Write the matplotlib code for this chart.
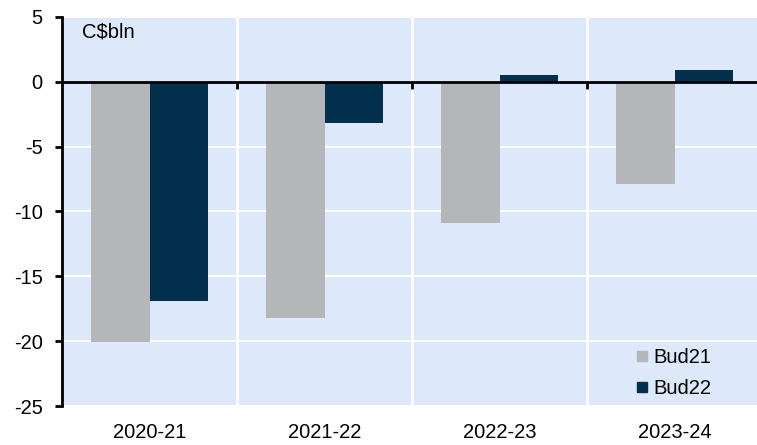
import numpy as np
import matplotlib
matplotlib.use("Agg")
import matplotlib.pyplot as plt

plt.rcParams["font.family"] = ["Liberation Sans", "DejaVu Sans"]
plt.rcParams["axes.unicode_minus"] = False

# Budget balance by fiscal year, C$ billion
years = ["2020-21", "2021-22", "2022-23", "2023-24"]
bud21 = [-20.1, -18.2, -10.9, -7.9]
bud22 = [-16.9, -3.2, 0.5, 0.9]

series_names = ["Bud21", "Bud22"]
colours = ["#B5B6B9", "#02304D"]
bg = "#DDE8FA"

fig = plt.figure(figsize=(7.57, 4.45), dpi=100)
ax = fig.add_axes([62 / 757, 39 / 445, 700 / 757, 389 / 445])
ax.set_facecolor(bg)

x = np.arange(len(years))
w = 0.335
ax.bar(x - w / 2, bud21, width=w, color=colours[0], label=series_names[0], zorder=3)
ax.bar(x + w / 2, bud22, width=w, color=colours[1], label=series_names[1], zorder=3)

ax.set_xlim(-0.5, len(years) - 0.5)
ax.set_ylim(-25, 5)
ax.set_yticks(np.arange(-25, 6, 5))

# white grid: horizontal at ticks, vertical between categories
for yv in np.arange(-25, 6, 5):
    ax.axhline(yv, color="white", lw=1.5, zorder=1)
for b in x[:-1] + 0.5:
    ax.axvline(b, color="white", lw=2, zorder=1)

# zero line acts as the category axis, ticks between groups
ax.spines["bottom"].set_position(("data", 0))
ax.spines["bottom"].set_linewidth(2)
ax.spines["bottom"].set_zorder(4)
ax.set_xticks(x[:-1] + 0.5)
ax.set_xticklabels([])
ax.tick_params(axis="x", direction="out", length=5, width=2)

for s in ["top", "right"]:
    ax.spines[s].set_visible(False)
ax.spines["left"].set_linewidth(2)
ax.tick_params(axis="y", direction="out", length=5, width=2, pad=9, labelsize=14.5)

# category labels along the bottom edge
sec = ax.secondary_xaxis("bottom")
sec.set_xticks(x)
sec.set_xticklabels(years)
sec.spines["bottom"].set_visible(False)
sec.tick_params(length=0, pad=12, labelsize=14.5)

ax.text(0.029, 0.985, "C$bln", transform=ax.transAxes, ha="left", va="top",
        fontsize=14.5)

handles = [plt.Line2D([], [], marker="s", ls="", color=c, markersize=7)
           for c in colours]
ax.legend(handles, series_names, loc="lower right", bbox_to_anchor=(0.945, -0.01),
          frameon=False, fontsize=14.5, handlelength=0.6, handletextpad=0.25,
          labelspacing=0.6, borderaxespad=0.2)

fig.savefig("out.png", dpi=100)
